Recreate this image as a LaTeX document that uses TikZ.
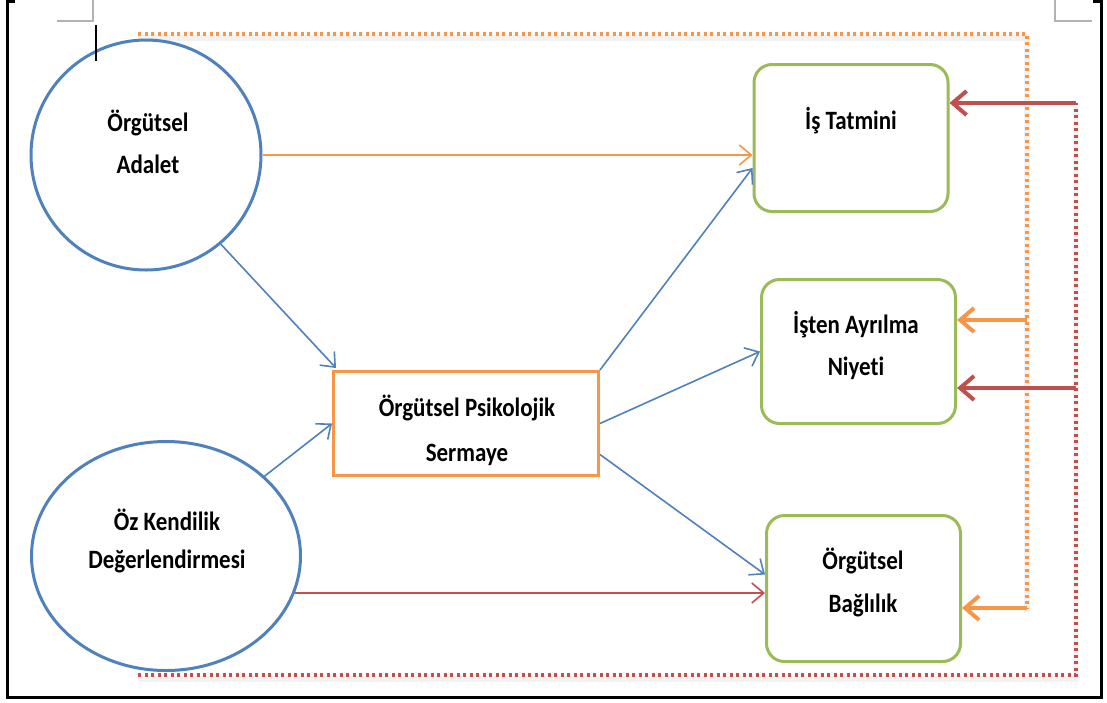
\documentclass[tikz,border=0pt]{standalone}
\usepackage{fontspec}
\setmainfont[Ligatures=NoCommon]{Carlito}
\usetikzlibrary{arrows.meta,calc,shapes.geometric}
\definecolor{cblue}{HTML}{4F81BD}
\definecolor{corange}{HTML}{F79646}
\definecolor{cgreen}{HTML}{9BBB59}
\definecolor{cred}{HTML}{C0504D}
\newcommand{\tl}[1]{\scalebox{1}[1.15]{#1}}
\begin{document}
\begin{tikzpicture}[x=1pt,y=-1pt,
  lbl/.style={font=\fontsize{23}{42}\selectfont\bfseries, align=center, inner sep=0pt, text=black},
  circ/.style={draw=cblue, line width=3pt, inner sep=0pt},
  gbox/.style={draw=cgreen, line width=3pt, rounded corners=18pt, minimum width=194pt, inner sep=0pt},
  obox/.style={draw=corange, line width=3pt, minimum width=265pt, minimum height=104pt, inner sep=0pt},
  thinarr/.style={line width=1.6pt, -{Straight Barb[length=12pt,width=20pt]}},
  thickarr/.style={line width=4pt, -{Straight Barb[length=14pt,width=24pt,line width=4pt]}},
  dots/.style={line width=3.5pt, dash pattern=on 3pt off 3.5pt},
  shade/.style={line width=6pt, black!5, transform canvas={yshift=-4pt}},
  cornermark/.style={line width=1.5pt, black!30}]
\useasboundingbox (0,0) rectangle (1107,702);
\fill[white] (0,0) rectangle (1107,702);
% page frame and word artefacts
\draw[line width=3pt] (15,1.5) -- (7,1.5) -- (7,697) -- (1101,697) -- (1101,1.5) -- (1093,1.5);
\draw[cornermark] (57,21) -- (93,21) -- (93,0);
\draw[cornermark] (1055,0) -- (1055,21) -- (1092,21);
\coordinate (cur1) at (96,25);
\coordinate (cur2) at (96,61);
% coordinates of free ends
\coordinate (o0) at (138,34);
\coordinate (o1) at (1027,34);
\coordinate (o2) at (1027,320);
\coordinate (o3) at (1027,608);
\coordinate (rl) at (138,675);
\coordinate (rb) at (1076,675);
\coordinate (r1) at (1076,103);
\coordinate (r2) at (1076,388);
% shadows of the dotted lines
\draw[shade] (o0) -- (o1) -- (o3);
\draw[shade] (rl) -- (rb) -- (r1);
% nodes
\node[circ, circle, minimum size=230pt] (adalet) at (146,155) {};
\node[circ, ellipse, minimum width=269pt, minimum height=229pt] (ozk) at (166,556) {};
\node[obox] (psy) at (466,423.5) {};
\node[gbox, minimum height=147pt] (tat) at (851,138) {};
\node[gbox, minimum height=144pt] (niy) at (858.5,351.5) {};
\node[gbox, minimum height=146pt] (bag) at (863.5,588.5) {};
% labels
\node[lbl] (adaletT) at (148,142) {\tl{Örgütsel}\\\tl{Adalet}};
\node[lbl, font=\fontsize{23}{38}\selectfont\bfseries] (ozkT) at (167,541) {\tl{Öz Kendilik}\\\tl{Değerlendirmesi}};
\node[lbl, font=\fontsize{23}{45}\selectfont\bfseries] (psyT) at (467,430) {\tl{Örgütsel Psikolojik}\\\tl{Sermaye}};
\node[lbl] (tatT) at (851,121) {\tl{İş Tatmini}};
\node[lbl] (niyT) at (856,346) {\tl{İşten Ayrılma}\\\tl{Niyeti}};
\node[lbl, font=\fontsize{23}{43}\selectfont\bfseries] (bagT) at (863,582) {\tl{Örgütsel}\\\tl{Bağlılık}};
% dotted feedback lines
\draw[dots, corange] (o0) -- (o1) -- (o3);
\draw[dots, cred] (rl) -- (rb) -- (r1);
% thick arrows
\draw[thickarr, cred] (r1) -- (r1 -| tat.east);
\draw[thickarr, cred] (r2) -- (r2 -| niy.east);
\draw[thickarr, corange] (o2) -- (o2 -| niy.east);
\draw[thickarr, corange] (o3) -- (o3 -| bag.east);
% thin connectors
\draw[thinarr, corange] (adalet.east) -- (adalet.east -| tat.west);
\draw[thinarr, cblue] (adalet.-50) -- ([xshift=4pt,yshift=2pt]psy.north west);
\draw[thinarr, cblue] (ozk.39) -- (psy.west);
\draw[thinarr, cred] (ozk.-16) -- (ozk.-16 -| bag.west);
\draw[thinarr, cblue] (psy.north east) -- ([yshift=-30pt]tat.west);
\draw[thinarr, cblue] (psy.east) -- (niy.west);
\draw[thinarr, cblue] ([yshift=-31pt]psy.east) -- ([yshift=14pt]bag.west);
% text cursor
\draw[line width=2.5pt] (cur1) -- (cur2);
\end{tikzpicture}
\end{document}
